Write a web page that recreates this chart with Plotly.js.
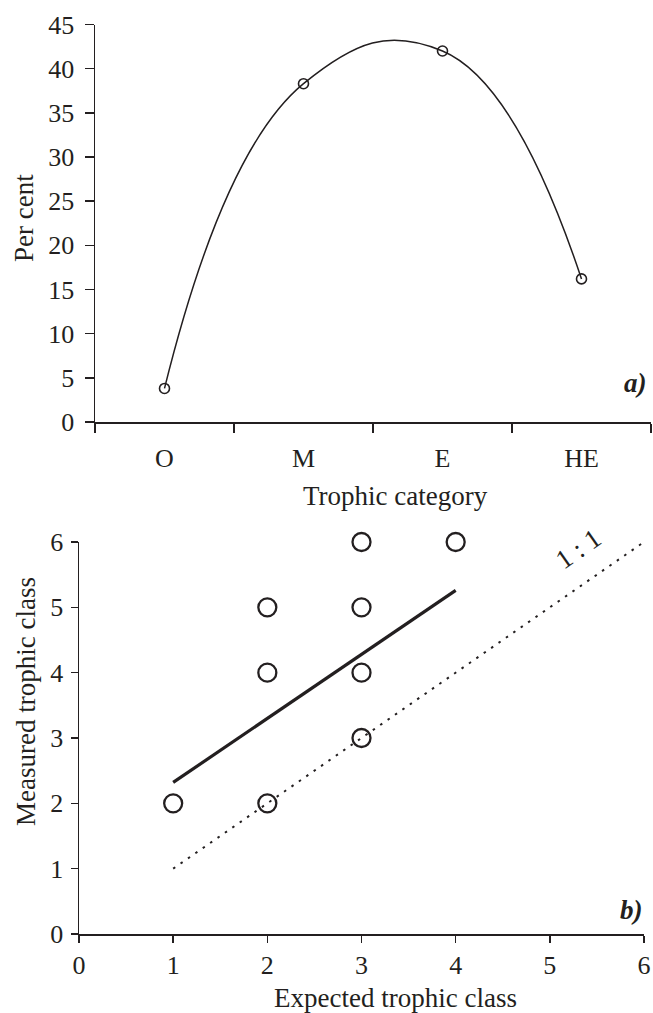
<!DOCTYPE html>
<html>
<head>
<meta charset="utf-8">
<script src="https://cdn.plot.ly/plotly-3.0.1.min.js"></script>
<style>
html,body{margin:0;padding:0;background:#fff;}
#chart{width:653px;height:1013px;}
</style>
</head>
<body>
<div id="chart"></div>
<script>
// ---- Panel a) data ----
var trophicCategories = ['O', 'M', 'E', 'HE'];
var perCent = [3.8, 38.3, 42.0, 16.2];

// ---- Panel b) data ----
var expectedClass = [1, 2, 2, 2, 3, 3, 3, 3, 4];
var measuredClass = [2, 2, 4, 5, 3, 4, 5, 6, 6];
var fitX = [1, 4];
var fitY = [2.32, 5.26];
var oneToOneX = [1, 6];
var oneToOneY = [1, 6];

var W = 653, H = 1013;
function px(x){ return x / W; }
function py(y){ return 1 - y / H; }

var INK = '#231f20';
var FONT = 'Liberation Serif, Times New Roman, serif';
var TFS = 26;   // tick labels
var AFS = 27;   // axis titles

var traces = [
  {
    x: trophicCategories, y: perCent, xaxis: 'x', yaxis: 'y',
    type: 'scatter', mode: 'lines+markers', cliponaxis: false,
    line: {shape: 'spline', smoothing: 1.3, color: INK, width: 1.5},
    marker: {symbol: 'circle-open', size: 10, color: INK, line: {width: 1.6, color: INK}},
    showlegend: false
  },
  {
    x: oneToOneX, y: oneToOneY, xaxis: 'x2', yaxis: 'y2',
    type: 'scatter', mode: 'lines', cliponaxis: false,
    line: {color: INK, width: 2, dash: '2.5px,6.5px'},
    showlegend: false
  },
  {
    x: fitX, y: fitY, xaxis: 'x2', yaxis: 'y2',
    type: 'scatter', mode: 'lines', cliponaxis: false,
    line: {color: INK, width: 3.2},
    showlegend: false
  },
  {
    x: expectedClass, y: measuredClass, xaxis: 'x2', yaxis: 'y2',
    type: 'scatter', mode: 'markers', cliponaxis: false,
    marker: {symbol: 'circle-open', size: 18, color: INK, line: {width: 2.3, color: INK}},
    showlegend: false
  }
];

var axisCommon = {
  showline: true, linecolor: INK, linewidth: 1.5,
  ticks: 'outside', ticklen: 9, tickwidth: 1.5, tickcolor: INK,
  showgrid: false, zeroline: false,
  tickfont: {family: FONT, size: TFS, color: INK},
  fixedrange: true
};

var layout = {
  width: W, height: H,
  margin: {l: 0, r: 0, t: 0, b: 0},
  paper_bgcolor: '#ffffff', plot_bgcolor: '#ffffff',
  font: {family: FONT, size: TFS, color: INK},
  xaxis: Object.assign({}, axisCommon, {
    domain: [px(95), px(651)], anchor: 'y',
    type: 'category', range: [-0.5, 3.5], tickson: 'boundaries',
    ticklabelstandoff: 12
  }),
  yaxis: Object.assign({}, axisCommon, {
    domain: [py(422), py(24.5)], anchor: 'x',
    range: [0, 45], dtick: 5, tick0: 0, ticklabelstandoff: 5
  }),
  xaxis2: Object.assign({}, axisCommon, {
    domain: [px(79), px(644)], anchor: 'y2',
    range: [0, 6], dtick: 1, tick0: 0, ticklen: 7
  }),
  yaxis2: Object.assign({}, axisCommon, {
    domain: [py(934), py(542)], anchor: 'x2',
    range: [0, 6], dtick: 1, tick0: 0, ticklen: 7, ticklabelstandoff: 2
  }),
  annotations: [
    {text: 'Per cent', xref: 'paper', yref: 'paper', x: px(24), y: py(218),
     textangle: -90, showarrow: false, xanchor: 'center', yanchor: 'middle',
     font: {family: FONT, size: AFS, color: INK}},
    {text: 'Trophic category', xref: 'paper', yref: 'paper', x: px(395), y: py(496),
     showarrow: false, xanchor: 'center', yanchor: 'middle',
     font: {family: FONT, size: AFS, color: INK}},
    {text: '<b><i>a)</i></b>', xref: 'paper', yref: 'paper', x: px(649), y: py(383),
     showarrow: false, xanchor: 'right', yanchor: 'middle',
     font: {family: FONT, size: 27, color: INK}},
    {text: 'Measured trophic class', xref: 'paper', yref: 'paper', x: px(26), y: py(702),
     textangle: -90, showarrow: false, xanchor: 'center', yanchor: 'middle',
     font: {family: FONT, size: AFS, color: INK}},
    {text: 'Expected trophic class', xref: 'paper', yref: 'paper', x: px(395), y: py(998),
     showarrow: false, xanchor: 'center', yanchor: 'middle',
     font: {family: FONT, size: AFS, color: INK}},
    {text: '<b><i>b)</i></b>', xref: 'paper', yref: 'paper', x: px(645), y: py(910),
     showarrow: false, xanchor: 'right', yanchor: 'middle',
     font: {family: FONT, size: 27, color: INK}},
    {text: '1 : 1', xref: 'x2', yref: 'y2', x: 5.3, y: 5.9,
     textangle: -35, showarrow: false, xanchor: 'center', yanchor: 'middle',
     font: {family: FONT, size: AFS, color: INK}}
  ]
};

Plotly.newPlot('chart', traces, layout, {displayModeBar: false, staticPlot: true});
</script>
</body>
</html>
